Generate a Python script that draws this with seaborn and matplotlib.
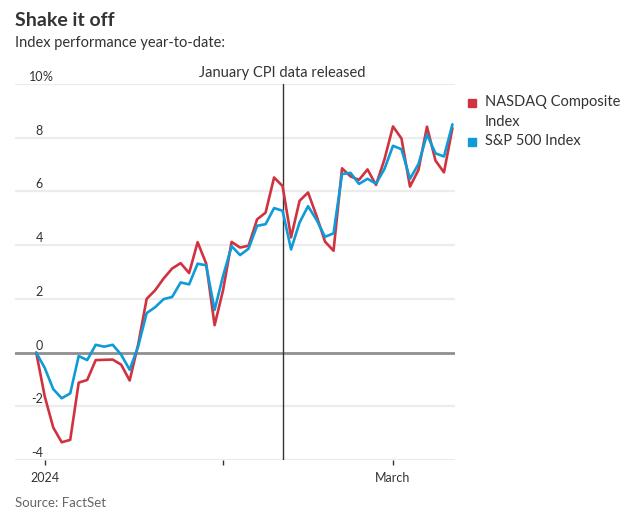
import numpy as np
import pandas as pd
import matplotlib
matplotlib.use("Agg")
import matplotlib.pyplot as plt
import seaborn as sns

# ---------- DATA (% change since Dec 29, 2023 close, trading days) ----------
dates = pd.to_datetime([
    "2023-12-29", "2024-01-02", "2024-01-03", "2024-01-04", "2024-01-05",
    "2024-01-08", "2024-01-09", "2024-01-10", "2024-01-11", "2024-01-12",
    "2024-01-16", "2024-01-17", "2024-01-18", "2024-01-19", "2024-01-22",
    "2024-01-23", "2024-01-24", "2024-01-25", "2024-01-26", "2024-01-29",
    "2024-01-30", "2024-01-31", "2024-02-01", "2024-02-02", "2024-02-05",
    "2024-02-06", "2024-02-07", "2024-02-08", "2024-02-09", "2024-02-12",
    "2024-02-13", "2024-02-14", "2024-02-15", "2024-02-16", "2024-02-20",
    "2024-02-21", "2024-02-22", "2024-02-23", "2024-02-26", "2024-02-27",
    "2024-02-28", "2024-02-29", "2024-03-01", "2024-03-04", "2024-03-05",
    "2024-03-06", "2024-03-07", "2024-03-08", "2024-03-11", "2024-03-12",
])
nasdaq = [
    0.00, -1.63, -2.79, -3.34, -3.25, -1.12, -1.02, -0.28, -0.27, -0.26,
    -0.45, -1.04, 0.30, 2.00, 2.32, 2.76, 3.13, 3.33, 2.96, 4.11,
    3.32, 1.02, 2.33, 4.12, 3.91, 3.98, 4.96, 5.21, 6.52, 6.20,
    4.29, 5.65, 5.96, 5.09, 4.13, 3.79, 6.86, 6.56, 6.43, 6.82,
    6.24, 7.20, 8.42, 7.97, 6.18, 6.80, 8.41, 7.15, 6.71, 8.36,
]
sp500 = [
    0.00, -0.57, -1.36, -1.70, -1.52, -0.13, -0.28, 0.29, 0.22, 0.29,
    -0.08, -0.64, 0.23, 1.47, 1.69, 1.99, 2.07, 2.61, 2.54, 3.31,
    3.25, 1.59, 2.86, 3.96, 3.63, 3.87, 4.72, 4.78, 5.38, 5.28,
    3.84, 4.84, 5.45, 4.94, 4.31, 4.44, 6.65, 6.69, 6.28, 6.47,
    6.29, 6.84, 7.70, 7.57, 6.47, 7.02, 8.12, 7.42, 7.30, 8.50,
]
series_names = ["NASDAQ Composite Index", "S&P 500 Index"]
y_ticks = [-4, -2, 0, 2, 4, 6, 8, 10]
x_tick_dates = ["2024-01-02", "2024-02-01", "2024-03-01"]
x_tick_labels = ["2024", "", "March"]
cpi_marker_date = "2024-02-12"

RED = "#d03340"
BLUE = "#0f9bd7"
TEXT = "#333333"

# ---------- BUILD LONG TABLE ----------
day_idx = np.arange(len(dates))
df = pd.DataFrame({
    "day": np.concatenate([day_idx, day_idx]),
    "pct": np.concatenate([nasdaq, sp500]),
    "index": [series_names[0]] * len(dates) + [series_names[1]] * len(dates),
})
pos = {d: i for i, d in enumerate(dates)}

# ---------- PLOT ----------
sns.set_style("white")
plt.rcParams["font.family"] = ["Lato", "DejaVu Sans"]

fig = plt.figure(figsize=(6.32, 5.21), dpi=100)
ax = fig.add_axes([15 / 632, 61 / 521, 440 / 632, 376 / 521])

for y in y_ticks:
    if y == 0:
        continue
    ax.axhline(y, color="#ececec", lw=1.6, zorder=0)
ax.axhline(0, color="#8f8f8f", lw=2.0, zorder=1)

cpi_x = pos[pd.Timestamp(cpi_marker_date)]
ax.axvline(cpi_x, color="#333333", lw=1.0, zorder=1)

sns.lineplot(data=df, x="day", y="pct", hue="index",
             palette=[RED, BLUE], linewidth=1.9, ax=ax,
             legend=False, zorder=3)

ax.set_xlim(-2.5, 49.3)
ax.set_ylim(-4, 10)
ax.set_xlabel("")
ax.set_ylabel("")
ax.set_yticks([])
ax.set_xticks([pos[pd.Timestamp(d)] for d in x_tick_dates])
ax.set_xticklabels(x_tick_labels, fontsize=9, color=TEXT)
ax.tick_params(axis="x", bottom=True, direction="out", length=3.5,
               width=1, color="#333333", pad=5)
sns.despine(ax=ax, left=True, right=True, top=True, bottom=True)

# y labels sit above gridlines
ytrans = ax.get_yaxis_transform()
for y in y_ticks:
    ax.text(28 / 440, y + 0.11, f"{y}", transform=ytrans, ha="right",
            va="baseline", fontsize=9, color=TEXT)
ax.text(27.5 / 440, 10 + 0.11, "%", transform=ytrans, ha="left",
        va="baseline", fontsize=9, color=TEXT)

ax.text(cpi_x, 10.27, "January CPI data released", ha="center",
        va="baseline", fontsize=10.5, color=TEXT)

# legend
fig.patches.append(plt.Rectangle((468 / 632, 1 - 107 / 521), 8 / 632, 8 / 521,
                                 transform=fig.transFigure, color=RED))
fig.patches.append(plt.Rectangle((468 / 632, 1 - 146 / 521), 8 / 632, 8 / 521,
                                 transform=fig.transFigure, color=BLUE))
fig.text(485 / 632, 1 - 112 / 521, "NASDAQ Composite\nIndex", ha="left",
         va="center", fontsize=10.5, color=TEXT, linespacing=1.5)
fig.text(485 / 632, 1 - 141 / 521, "S&P 500 Index", ha="left",
         va="center", fontsize=10.5, color=TEXT)

# titles
fig.text(15 / 632, 1 - 21 / 521, "Shake it off", ha="left", va="center",
         fontsize=14, fontweight="bold", color=TEXT)
fig.text(15 / 632, 1 - 43 / 521, "Index performance year-to-date:",
         ha="left", va="center", fontsize=10.5, color=TEXT)
fig.text(15 / 632, 1 - 503 / 521, "Source: FactSet", ha="left",
         va="center", fontsize=9.5, color="#666666")

fig.savefig("out.png", dpi=100)
